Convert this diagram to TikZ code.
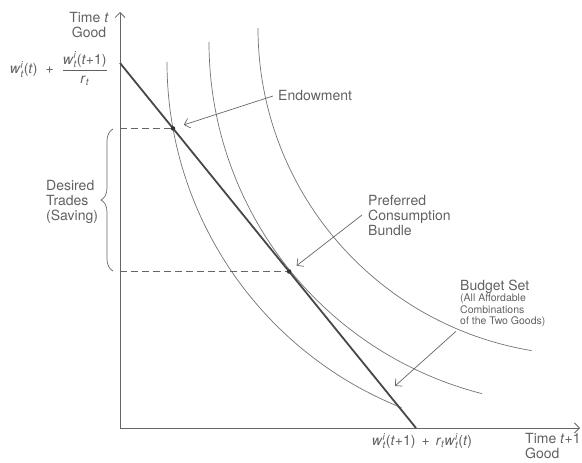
\documentclass[tikz,border=0pt]{standalone}
\usepackage{amsmath}
\usepackage{fontspec}
\setmainfont{TeX Gyre Heros}
\usepackage{xcolor}
\usepackage{tikz}
\usetikzlibrary{arrows.meta,decorations.pathreplacing}

% endowment symbol w^i_t
\newcommand{\wend}{\textit{w}$^{\textit{i}}_{\textit{t}}$}

\begin{document}
\begin{tikzpicture}[x=1pt,y=-1pt,>={Straight Barb[length=5pt,width=10pt]},
  txt/.style={text=black!62,font=\fontsize{14}{15}\selectfont,inner sep=0pt},
  note/.style={text=black!62,font=\fontsize{10.5}{11.5}\selectfont,inner sep=0pt},
  axis/.style={draw=black!60,line width=0.8pt},
  icurve/.style={draw=black!55,line width=0.7pt},
  guide/.style={draw=black!60,dash pattern=on 7pt off 4pt,line width=0.8pt},
  pointer/.style={draw=black!60,line width=0.7pt,->},
  dot/.style={circle,fill=black!80,inner sep=0pt,minimum size=4.5pt}]
  \useasboundingbox (0,0) rectangle (582,463);

  % axes
  \coordinate (o) at (120,428);
  \coordinate (ytip) at (120,12);
  \coordinate (xtip) at (580,428);
  \draw[axis,->] (o) -- (ytip);
  \draw[axis,->] (o) -- (xtip);
  \node[txt,align=center] (ylab) at (89,25) {Time \textit{t}\\Good};
  \node[txt,align=left,anchor=north west] (xlab) at (525,433) {Time \textit{t}+1\\Good};

  % indifference curves (circular arcs)
  \coordinate (u1) at (167,62);
  \coordinate (u2) at (209,42);
  \coordinate (u3) at (258,28);
  \draw[icurve] (u1) arc[start angle=180,end angle=111.7,radius=372];
  \draw[icurve] (u2) arc[start angle=180,end angle=104.4,radius=363];
  \draw[icurve] (u3) arc[start angle=180,end angle=99.4,radius=327];

  % budget line
  \coordinate (b0) at (120,63);
  \coordinate (b1) at (416,428);
  \draw[draw=black!72,line width=1.8pt] (b0) -- (b1);
  \node[txt,anchor=east] (yint) at (108,69)
    {\wend(\textit{t})\hspace{8pt}+\hspace{8pt}$\dfrac{\text{\wend(\textit{t}+1)}}{\text{\textit{r}$_{\textit{t}}$}}$};
  \node[txt,anchor=north] (xint) at (422,433)
    {\wend(\textit{t}+1)\hspace{6pt}+\hspace{6pt}\textit{r}$_{\textit{t}}$\wend(\textit{t})};

  % endowment and chosen bundle
  \node[dot] (endow) at (173,128.4) {};
  \node[dot] (pref) at (289.1,271.5) {};
  \coordinate (e0) at (120,128.4);
  \coordinate (p0) at (120,271.5);
  \draw[guide] (e0) -- (endow);
  \draw[guide] (p0) -- (pref);

  \node[txt,anchor=west] (endowtxt) at (278,96) {Endowment};
  \draw[pointer,shorten >=9pt] ([xshift=-5pt]endowtxt.west) -- (endow);

  \node[txt,align=left,anchor=west] (preftxt) at (368,215) {Preferred\\Consumption\\Bundle};
  \draw[pointer,shorten >=7pt] ([xshift=-6pt]preftxt.west) -- (pref);

  \node[txt,anchor=base west] (budget) at (460,290) {Budget Set};
  \node[note,align=left,anchor=north west] (budgetsub) at (460,294)
    {(All Affordable\\Combinations\\of the Two Goods)};
  \coordinate (inset) at (395,386);
  \draw[pointer] ([xshift=-4pt,yshift=-4pt]budgetsub.south west) -- (inset);

  % saving brace
  \coordinate (s0) at (113,129);
  \coordinate (s1) at (113,271);
  \draw[draw=black!60,line width=0.7pt,decorate,decoration={brace,amplitude=12pt}] (s1) -- (s0);
  \node[txt,align=left,anchor=west] (trades) at (46,202) {Desired\\Trades\\(Saving)};
\end{tikzpicture}
\end{document}
